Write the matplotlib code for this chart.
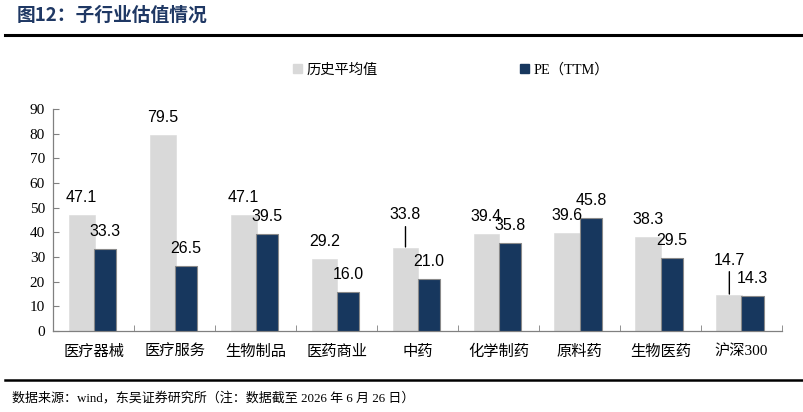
import numpy as np
import matplotlib
matplotlib.use('Agg')
import matplotlib.pyplot as plt
from matplotlib.lines import Line2D
from matplotlib.patches import Patch
from matplotlib.ticker import FixedLocator

# data
categories = ['医疗器械', '医疗服务', '生物制品', '医药商业', '中药',
              '化学制药', '原料药', '生物医药', '沪深300']
hist_avg = [47.1, 79.5, 47.1, 29.2, 33.8, 39.4, 39.6, 38.3, 14.7]
pe_ttm = [33.3, 26.5, 39.5, 16.0, 21.0, 35.8, 45.8, 29.5, 14.3]
yticks = [0, 10, 20, 30, 40, 50, 60, 70, 80, 90]

light = '#d9d9d9'
navy = '#17375e'
cjk = ['Noto Sans CJK SC', 'DejaVu Sans']
serif_cjk = ['Liberation Serif', 'Noto Sans CJK SC']

fig = plt.figure(figsize=(8.04, 4.12), dpi=100)
ax = fig.add_axes([0.0663, 0.1966, 0.9063, 0.5388])

x = np.arange(len(categories))
b1 = ax.bar(x - 0.15, hist_avg, width=0.32, color=light, edgecolor='#dedede', linewidth=0.5, zorder=2)
b2 = ax.bar(x + 0.14, pe_ttm, width=0.28, color=navy, edgecolor='#8a8a8a', linewidth=0.8, zorder=3)

# data labels, a couple raised with leader lines (as in the reference)
raised = {('h', 4): 23.5, ('h', 8): 25.0}
for series, vals, xoff in (('h', hist_avg, -0.15), ('p', pe_ttm, 0.14)):
    for i, v in enumerate(vals):
        dy = raised.get((series, i))
        if dy is None:
            ax.annotate(f'{v:.1f}', (x[i] + xoff, v), xytext=(0, 12.6),
                        textcoords='offset points', ha='center', va='center',
                        fontsize=11.5, family='Liberation Sans', zorder=5)
        else:
            ax.annotate(f'{v:.1f}', (x[i] + xoff, v), xytext=(0, dy),
                        textcoords='offset points', ha='center', va='center',
                        fontsize=11.5, family='Liberation Sans', zorder=5,
                        arrowprops=dict(arrowstyle='-', color='black', lw=1.0,
                                        shrinkA=1, shrinkB=0.5))

ax.set_xlim(-0.5, len(categories) - 0.5)
ax.set_ylim(0, 90)
ax.set_yticks(yticks)
ax.set_yticklabels([str(t) for t in yticks], family='Liberation Serif', fontsize=11)
ax.set_xticks(x)
ax.set_xticklabels(categories, family=serif_cjk, fontsize=11)
ax.xaxis.set_minor_locator(FixedLocator(np.arange(len(categories) + 1) - 0.5))
ax.tick_params(axis='x', which='major', length=0, pad=10)
ax.tick_params(axis='x', which='minor', direction='in', length=4, color='#808080')
ax.tick_params(axis='y', direction='in', length=4, color='#808080', pad=6)

for s in ('top', 'right'):
    ax.spines[s].set_visible(False)
for s in ('left', 'bottom'):
    ax.spines[s].set_color('#808080')
    ax.spines[s].set_linewidth(0.9)

handles = [Patch(facecolor=light, edgecolor=light), Patch(facecolor=navy, edgecolor=navy)]
fig.legend(handles, ['历史平均值', 'PE（TTM）'], loc='center', bbox_to_anchor=(0.561, 0.830),
           ncol=2, frameon=False, handlelength=0.6, handleheight=0.6, handletextpad=0.3,
           columnspacing=10, prop={'family': serif_cjk, 'size': 10.3})

# title, rules and source note
fig.text(0.021, 0.962, '图12：子行业估值情况', family=cjk, fontsize=13.5, fontweight='bold',
         color='#1f3864', va='center', ha='left')
fig.add_artist(Line2D([0.006, 0.996], [0.916, 0.916], transform=fig.transFigure,
                      color='black', lw=2.2))
fig.add_artist(Line2D([0.006, 0.999], [0.077, 0.077], transform=fig.transFigure,
                      color='black', lw=1.8))
fig.text(0.015, 0.034, '数据来源：wind，东吴证券研究所（注：数据截至 2026 年 6 月 26 日）',
         family=serif_cjk, fontsize=9.4, va='center', ha='left')

fig.savefig('out.png', dpi=100)
